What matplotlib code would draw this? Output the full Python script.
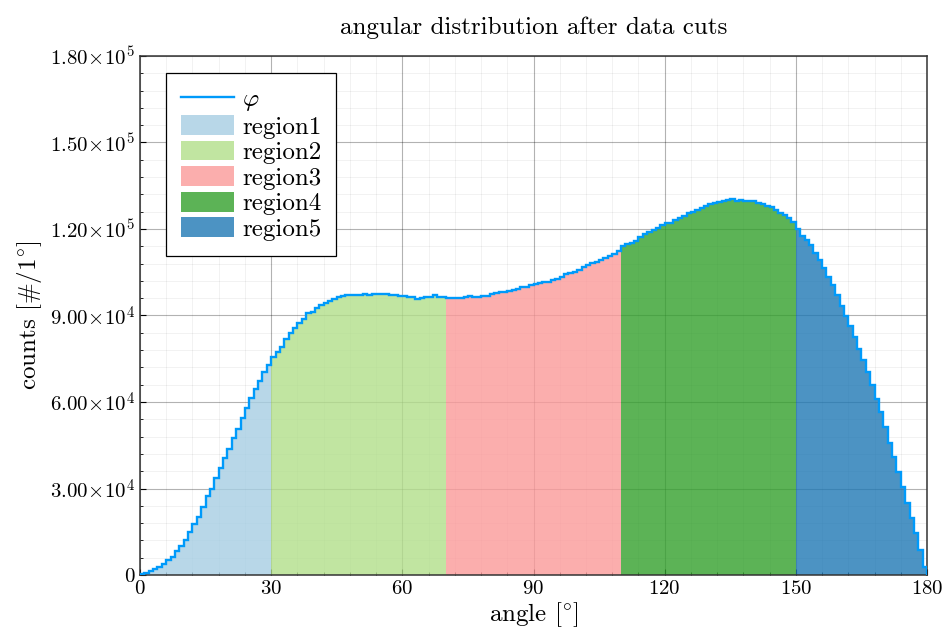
import numpy as np
import matplotlib
matplotlib.use("Agg")
from matplotlib import pyplot as plt
from matplotlib.ticker import MultipleLocator, FuncFormatter
from matplotlib.patches import Patch
from matplotlib.lines import Line2D

plt.rcParams['font.family'] = 'serif'
plt.rcParams['font.serif'] = ['cmr10']
plt.rcParams['mathtext.fontset'] = 'cm'
plt.rcParams['axes.formatter.use_mathtext'] = True
plt.rcParams['axes.unicode_minus'] = False

# counts per 1 degree bin, 0..180
counts = np.array([
    500, 800, 1500, 2200, 2800, 3700, 5200, 6400, 8400, 10000,
    12100, 14800, 17800, 20200, 23600, 27300, 30000, 33500, 37100, 40700,
    43800, 47600, 50700, 54300, 57800, 61400, 64400, 67300, 70400, 73000,
    75700, 77500, 79200, 82000, 83800, 85500, 87300, 88700, 90800, 91300,
    92500, 93600, 94200, 95100, 95700, 96300, 96800, 97000, 97100, 97200,
    97200, 97300, 97200, 97300, 97500, 97500, 97600, 97200, 97000, 96900,
    96600, 96500, 96300, 95600, 96200, 96500, 96500, 97000, 96300, 96300,
    95900, 96000, 96100, 96200, 96300, 96600, 96500, 96400, 96600, 96900,
    97300, 97700, 98000, 98300, 98500, 98800, 99100, 99800, 100000, 100600,
    100900, 101200, 101500, 101700, 102300, 102500, 103500, 104300, 104900, 105200,
    105800, 106700, 107500, 108100, 108400, 109200, 109800, 110600, 111200, 112500,
    114000, 114700, 115100, 116000, 117300, 118300, 118800, 119700, 120500, 121400,
    122000, 122200, 123100, 123700, 124500, 125700, 126000, 126600, 127400, 128000,
    128700, 129100, 129500, 129800, 130100, 130300, 129800, 130100, 129800, 129600,
    129600, 129100, 128500, 128000, 127500, 126600, 125700, 124900, 123700, 122500,
    120000, 117600, 116200, 114500, 111600, 109200, 106400, 103200, 100600, 97100,
    93300, 89900, 86400, 82700, 78400, 74600, 70500, 65900, 60900, 56600,
    51400, 45700, 41000, 35800, 30400, 25100, 19700, 14500, 8700, 2900,
])
edges = np.arange(0, 181)

# region limits in degrees
region_bounds = [0, 30, 70, 110, 150, 180]
region_names = ['region1', 'region2', 'region3', 'region4', 'region5']
region_colors = ['#a6cee3', '#b2df8a', '#fb9a99', '#33a02c', '#1f78b4']
line_color = '#009afa'

fig = plt.figure(figsize=(9.43, 6.4), dpi=100)
ax = fig.add_axes([140 / 943, 65 / 640, 787 / 943, 519 / 640])

for i in range(len(region_names)):
    a, b = region_bounds[i], region_bounds[i + 1]
    ax.stairs(counts[a:b], edges[a:b + 1], fill=True,
              color=region_colors[i], alpha=0.8, lw=0, zorder=2)
ax.stairs(counts, edges, color=line_color, lw=1.7, zorder=3)

ax.set_xlim(0, 180)
ax.set_ylim(0, 180000)
ax.xaxis.set_major_locator(MultipleLocator(30))
ax.xaxis.set_minor_locator(MultipleLocator(6))
ax.yaxis.set_major_locator(MultipleLocator(30000))
ax.yaxis.set_minor_locator(MultipleLocator(6000))


def sci_fmt(v, pos):
    if v <= 0:
        return '$0$'
    e = int(np.floor(np.log10(v)))
    return r'$%.2f\!\times\!10^{%d}$' % (v / 10 ** e, e)


ax.yaxis.set_major_formatter(FuncFormatter(sci_fmt))
ax.xaxis.set_major_formatter(FuncFormatter(lambda v, p: '$%d$' % v))

ax.grid(which='major', color='black', alpha=0.3, lw=0.8, zorder=1)
ax.grid(which='minor', color='black', alpha=0.06, lw=0.6, zorder=1)
ax.set_axisbelow(True)
ax.tick_params(which='both', direction='in', labelsize=15)
ax.tick_params(which='major', length=4)
ax.tick_params(which='minor', length=2)
for s in ax.spines.values():
    s.set_linewidth(1.1)
    s.set_color('#333333')

ax.set_xlabel(r'angle [$^{\circ}$]', fontsize=18, labelpad=2)
ax.set_ylabel(r'counts [$\#/1^{\circ}$]', fontsize=18, labelpad=4)
ax.set_title('angular distribution after data cuts', fontsize=18, pad=16)

handles = [Line2D([], [], color=line_color, lw=1.7)]
handles += [Patch(facecolor=c, alpha=0.8, lw=0) for c in region_colors]
labels = [r'$\varphi$'] + region_names
leg = ax.legend(handles, labels, loc='upper left', bbox_to_anchor=(0.033, 0.968),
                fontsize=18, frameon=True, fancybox=False, edgecolor='black',
                framealpha=1, handlelength=2.12, handleheight=0.84,
                labelspacing=0.08, borderpad=0.6, handletextpad=0.32,
                borderaxespad=0)
leg.get_frame().set_linewidth(0.9)

fig.savefig('out.png', dpi=100)
